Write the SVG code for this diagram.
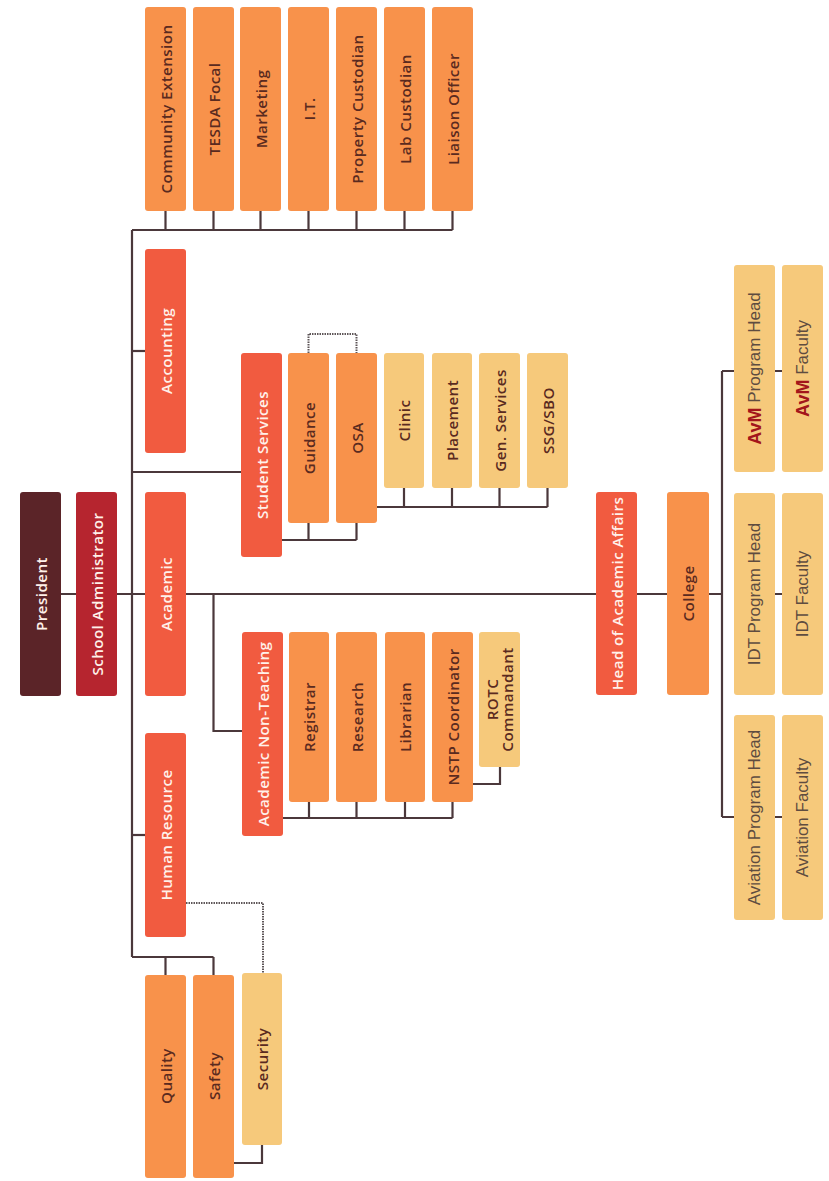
<svg xmlns="http://www.w3.org/2000/svg" width="829" height="1181" viewBox="0 0 829 1181">
<style>
  .bg{fill:#ffffff}
  .pres{fill:#5b2428}
  .adm{fill:#b6252f}
  .red{fill:#f15b40}
  .org{fill:#f8924b}
  .lt{fill:#f6c97b}
  rect{rx:3;ry:3}
  .ln{fill:none;stroke:#4b383b;stroke-width:2.2}
  .dt{fill:none;stroke:#5e5658;stroke-width:2;stroke-dasharray:1.5 1}
  text{font-family:"Open Sans","Liberation Sans",sans-serif;font-size:15.2px;font-weight:600;text-anchor:middle;dominant-baseline:central;letter-spacing:0.4px}
  .w{fill:#fff1ea}
  .d{fill:#5a2a1f}
  .g{fill:#5e4c40;font-family:"Liberation Sans",Arial,sans-serif;font-size:17px;font-weight:400;letter-spacing:0}
  .avm{fill:#a3161b;font-weight:700;font-size:18px}
</style>
<rect class="bg" x="0" y="0" width="829" height="1181" rx="0" ry="0"/>

<g id="connectors">
  <path class="ln" d="M61 594 H722"/>
  <path class="ln" d="M132 230 V957"/>
  <path class="ln" d="M132 230 H452.5 M165.5 211 V230 M213.5 211 V230 M260.5 211 V230 M308.5 211 V230 M356.5 211 V230 M404.5 211 V230 M452.5 211 V230"/>
  <path class="ln" d="M132 351 H145"/>
  <path class="ln" d="M132 472 H241"/>
  <path class="ln" d="M132 835 H145"/>
  <path class="ln" d="M132 957 H213.5 M165.5 957 V975 M213.5 957 V975"/>
  <path class="ln" d="M234 1163 H262 V1145"/>
  <path class="dt" d="M186 903 H263 V973"/>
  <path class="ln" d="M282 540 H356.5 M308.5 523 V540 M356.5 523 V540"/>
  <path class="dt" d="M308.5 353 V334 H356.5 V353"/>
  <path class="ln" d="M377 507 H547.5 M404 488 V507 M452 488 V507 M499.5 488 V507 M547.5 488 V507"/>
  <path class="ln" d="M213.5 594 V731 H242"/>
  <path class="ln" d="M283 818 H452.5 M309 802 V818 M356.5 802 V818 M405 802 V818 M452.5 802 V818"/>
  <path class="ln" d="M473 784 H500 V767"/>
  <path class="ln" d="M722 371 V817 M722 371 H734 M722 817 H734"/>
  <path class="ln" d="M775 371 H782 M775 594 H782 M775 817 H782"/>
</g>

<g id="n-president"><rect class="pres" x="20" y="492" width="41" height="204"/><text class="w" transform="rotate(-90 40.5 594)" x="40.5" y="594">President</text></g>
<g id="n-school-admin"><rect class="adm" x="76" y="492" width="41" height="204"/><text class="w" transform="rotate(-90 96.5 594)" x="96.5" y="594">School Administrator</text></g>

<g id="n-community"><rect class="org" x="145" y="7" width="41" height="204"/><text class="d" transform="rotate(-90 165.5 109)" x="165.5" y="109">Community Extension</text></g>
<g id="n-tesda"><rect class="org" x="193" y="7" width="41" height="204"/><text class="d" transform="rotate(-90 213.5 109)" x="213.5" y="109">TESDA Focal</text></g>
<g id="n-marketing"><rect class="org" x="240" y="7" width="41" height="204"/><text class="d" transform="rotate(-90 260.5 109)" x="260.5" y="109">Marketing</text></g>
<g id="n-it"><rect class="org" x="288" y="7" width="41" height="204"/><text class="d" transform="rotate(-90 308.5 109)" x="308.5" y="109">I.T.</text></g>
<g id="n-property"><rect class="org" x="336" y="7" width="41" height="204"/><text class="d" transform="rotate(-90 356.5 109)" x="356.5" y="109">Property Custodian</text></g>
<g id="n-lab"><rect class="org" x="384" y="7" width="41" height="204"/><text class="d" transform="rotate(-90 404.5 109)" x="404.5" y="109">Lab Custodian</text></g>
<g id="n-liaison"><rect class="org" x="432" y="7" width="41" height="204"/><text class="d" transform="rotate(-90 452.5 109)" x="452.5" y="109">Liaison Officer</text></g>

<g id="n-accounting"><rect class="red" x="145" y="249" width="41" height="204"/><text class="w" transform="rotate(-90 165.5 351)" x="165.5" y="351">Accounting</text></g>
<g id="n-academic"><rect class="red" x="145" y="492" width="41" height="204"/><text class="w" transform="rotate(-90 165.5 594)" x="165.5" y="594">Academic</text></g>
<g id="n-hr"><rect class="red" x="145" y="733" width="41" height="204"/><text class="w" transform="rotate(-90 165.5 835)" x="165.5" y="835">Human Resource</text></g>

<g id="n-quality"><rect class="org" x="145" y="975" width="41" height="203"/><text class="d" transform="rotate(-90 165.5 1076)" x="165.5" y="1076">Quality</text></g>
<g id="n-safety"><rect class="org" x="193" y="975" width="41" height="203"/><text class="d" transform="rotate(-90 213.5 1076)" x="213.5" y="1076">Safety</text></g>
<g id="n-security"><rect class="lt" x="242" y="973" width="40" height="172"/><text class="d" transform="rotate(-90 262 1059)" x="262" y="1059">Security</text></g>

<g id="n-student-services"><rect class="red" x="241" y="353" width="41" height="204"/><text class="w" transform="rotate(-90 261.5 455)" x="261.5" y="455">Student Services</text></g>
<g id="n-guidance"><rect class="org" x="288" y="353" width="41" height="170"/><text class="d" transform="rotate(-90 308.5 438)" x="308.5" y="438">Guidance</text></g>
<g id="n-osa"><rect class="org" x="336" y="353" width="41" height="170"/><text class="d" transform="rotate(-90 356.5 438)" x="356.5" y="438">OSA</text></g>
<g id="n-clinic"><rect class="lt" x="384" y="353" width="40" height="135"/><text class="d" transform="rotate(-90 404 420.5)" x="404" y="420.5">Clinic</text></g>
<g id="n-placement"><rect class="lt" x="432" y="353" width="40" height="135"/><text class="d" transform="rotate(-90 452 420.5)" x="452" y="420.5">Placement</text></g>
<g id="n-gen-services"><rect class="lt" x="479" y="353" width="41" height="135"/><text class="d" transform="rotate(-90 499.5 420.5)" x="499.5" y="420.5">Gen. Services</text></g>
<g id="n-ssg"><rect class="lt" x="527" y="353" width="41" height="135"/><text class="d" transform="rotate(-90 547.5 420.5)" x="547.5" y="420.5">SSG/SBO</text></g>

<g id="n-ant"><rect class="red" x="242" y="632" width="41" height="204"/><text class="w" transform="rotate(-90 262.5 734)" x="262.5" y="734">Academic Non-Teaching</text></g>
<g id="n-registrar"><rect class="org" x="289" y="632" width="40" height="170"/><text class="d" transform="rotate(-90 309 717)" x="309" y="717">Registrar</text></g>
<g id="n-research"><rect class="org" x="336" y="632" width="41" height="170"/><text class="d" transform="rotate(-90 356.5 717)" x="356.5" y="717">Research</text></g>
<g id="n-librarian"><rect class="org" x="385" y="632" width="40" height="170"/><text class="d" transform="rotate(-90 405 717)" x="405" y="717">Librarian</text></g>
<g id="n-nstp"><rect class="org" x="432" y="632" width="41" height="170"/><text class="d" transform="rotate(-90 452.5 717)" x="452.5" y="717">NSTP Coordinator</text></g>
<g id="n-rotc"><rect class="lt" x="479" y="632" width="41" height="135"/><text class="d" transform="rotate(-90 499.5 699.5)" x="499.5" y="699.5"><tspan x="499.5" dy="-7.5">ROTC</tspan><tspan x="499.5" dy="15">Commandant</tspan></text></g>

<g id="n-haa"><rect class="red" x="596" y="492" width="41" height="203"/><text class="w" transform="rotate(-90 616.5 593.5)" x="616.5" y="593.5">Head of Academic Affairs</text></g>
<g id="n-college"><rect class="org" x="667" y="492" width="42" height="203"/><text class="d" transform="rotate(-90 688 593.5)" x="688" y="593.5">College</text></g>

<g id="n-avm-head"><rect class="lt" x="734" y="265" width="41" height="207"/><text class="g" transform="rotate(-90 754.5 368.5)" x="754.5" y="368.5"><tspan class="avm">AvM</tspan> Program Head</text></g>
<g id="n-avm-faculty"><rect class="lt" x="782" y="265" width="41" height="207"/><text class="g" transform="rotate(-90 802.5 368.5)" x="802.5" y="368.5"><tspan class="avm">AvM</tspan>  Faculty</text></g>
<g id="n-idt-head"><rect class="lt" x="734" y="493" width="41" height="202"/><text class="g" transform="rotate(-90 754.5 594)" x="754.5" y="594">IDT Program Head</text></g>
<g id="n-idt-faculty"><rect class="lt" x="782" y="493" width="41" height="202"/><text class="g" transform="rotate(-90 802.5 594)" x="802.5" y="594">IDT Faculty</text></g>
<g id="n-aviation-head"><rect class="lt" x="734" y="715" width="41" height="205"/><text class="g" transform="rotate(-90 754.5 817.5)" x="754.5" y="817.5">Aviation Program Head</text></g>
<g id="n-aviation-faculty"><rect class="lt" x="782" y="715" width="41" height="205"/><text class="g" transform="rotate(-90 802.5 817.5)" x="802.5" y="817.5">Aviation Faculty</text></g>
</svg>
